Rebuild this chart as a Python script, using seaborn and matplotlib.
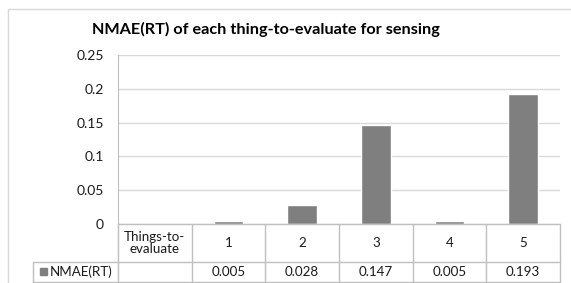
import pandas as pd
import numpy as np
import seaborn as sns
import matplotlib
matplotlib.use("Agg")
import matplotlib.pyplot as plt
from matplotlib.patches import Rectangle
from matplotlib.ticker import FuncFormatter

sns.set_style("white")
plt.rcParams['font.family'] = ['Lato', 'DejaVu Sans']

title = "NMAE(RT) of each thing-to-evaluate for sensing"
header_label = "Things-to-\nevaluate"
series_name = "NMAE(RT)"
things = ["1", "2", "3", "4", "5"]
nmae = [0.005, 0.028, 0.147, 0.005, 0.193]
value_labels = ["0.005", "0.028", "0.147", "0.005", "0.193"]
yticks = [0, 0.05, 0.1, 0.15, 0.2, 0.25]

df = pd.DataFrame({"thing": things, "NMAE": nmae})
order = [header_label] + things

W, H = 571, 283
fig = plt.figure(figsize=(W / 100, H / 100), dpi=100)
ax = fig.add_axes([118 / W, (H - 224) / H, 442 / W, 169 / H])

bar_col = "#7f7f7f"
line_col = "#bfbfbf"
grid_col = "#d9d9d9"
text_col = "#1a1a1a"
fs = 9.6

sns.barplot(data=df, x="thing", y="NMAE", order=order, color=bar_col,
            width=0.4, saturation=1, ax=ax)

ax.set_xlim(-0.5, 5.5)
ax.set_ylim(0, 0.25)
ax.set_yticks(yticks)
ax.yaxis.set_major_formatter(FuncFormatter(lambda v, p: "%g" % v))
ax.tick_params(axis="y", length=0, pad=10, labelsize=fs + 0.4, labelcolor=text_col)
ax.set_xticks([])
ax.set_xlabel("")
ax.set_ylabel("")
ax.grid(axis="y", color=grid_col, linewidth=1)
ax.set_axisbelow(True)
for s in ["top", "right", "bottom"]:
    ax.spines[s].set_visible(False)
ax.spines["left"].set_color(line_col)

# data table below the axis
tr = ax.get_xaxis_transform()
y_mid = -38 / 169
y_bot = -58 / 169
x_leg = -0.5 + (33 - 118) / (442 / 6)
kw = dict(transform=tr, clip_on=False, color=line_col, linewidth=1)
ax.plot([-0.5, 5.5], [0, 0], **kw)
ax.plot([x_leg, 5.5], [y_mid, y_mid], **kw)
ax.plot([x_leg, 5.5], [y_bot, y_bot], **kw)
for xb in np.arange(-0.5, 6, 1):
    ax.plot([xb, xb], [0, y_bot], **kw)
ax.plot([x_leg, x_leg], [y_mid, y_bot], **kw)

txt = dict(transform=tr, ha="center", va="center", fontsize=fs, color=text_col)
ax.text(0, y_mid / 2, header_label, linespacing=1.05, **txt)
for i, (t, v) in enumerate(zip(things, value_labels)):
    ax.text(i + 1, y_mid / 2, t, **txt)
    ax.text(i + 1, (y_mid + y_bot) / 2, v, **txt)

fig.patches.append(Rectangle((40 / W, (H - 275) / H), 7 / W, 7 / H,
                             transform=fig.transFigure, color=bar_col))
fig.text(50 / W, (H - 272) / H, series_name, ha="left", va="center",
         fontsize=fs, color=text_col)

# chart border
fig.patches.append(Rectangle((8 / W, -0.1), 1.2, (H - 9) / H + 0.1,
                             transform=fig.transFigure, fill=False,
                             edgecolor=grid_col, linewidth=1))

fig.text(266 / W, (H - 29) / H, title, ha="center", va="center",
         fontsize=11.7, fontweight="bold", color="#000000")

fig.savefig("out.png", dpi=100)
